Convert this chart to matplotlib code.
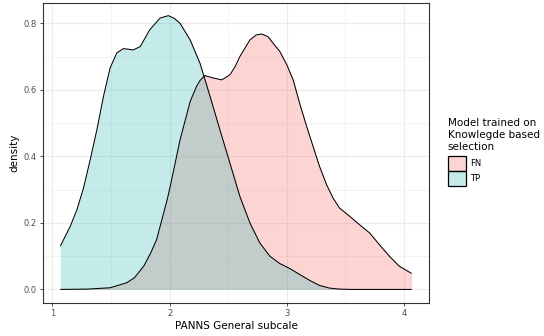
import numpy as np
import matplotlib.pyplot as plt
from matplotlib.patches import Patch
from matplotlib.colors import to_rgba

# density estimates of the PANNS General subscale per prediction group
x_fn = [1.068, 1.30, 1.493, 1.634, 1.70, 1.78, 1.84, 1.89, 1.92, 1.95, 1.98,
        2.006, 2.06, 2.09, 2.15, 2.176, 2.23, 2.26, 2.30, 2.37, 2.445, 2.515,
        2.56, 2.60, 2.686, 2.74, 2.785, 2.84, 2.884, 2.94, 3.0, 3.055, 3.11,
        3.17, 3.225, 3.28, 3.34, 3.395, 3.45, 3.537, 3.62, 3.707, 3.79, 3.876,
        3.96, 4.066]
y_fn = [0.0, 0.001, 0.005, 0.02, 0.035, 0.07, 0.11, 0.15, 0.19, 0.23, 0.27,
        0.31, 0.40, 0.45, 0.53, 0.565, 0.61, 0.628, 0.643, 0.636, 0.63, 0.645,
        0.67, 0.70, 0.75, 0.765, 0.768, 0.76, 0.74, 0.716, 0.676, 0.63, 0.56,
        0.49, 0.43, 0.37, 0.315, 0.275, 0.245, 0.22, 0.195, 0.17, 0.135, 0.10,
        0.07, 0.048]

x_tp = [1.068, 1.153, 1.21, 1.266, 1.323, 1.38, 1.436, 1.493, 1.55, 1.606,
        1.65, 1.69, 1.75, 1.79, 1.83, 1.88, 1.92, 1.99, 2.04, 2.09, 2.176, 2.26,
        2.346, 2.43, 2.515, 2.60, 2.686, 2.77, 2.856, 2.94, 3.026, 3.11, 3.197,
        3.28, 3.366, 3.45, 3.55, 4.066]
y_tp = [0.130, 0.19, 0.24, 0.305, 0.39, 0.48, 0.58, 0.666, 0.711, 0.724,
        0.722, 0.72, 0.73, 0.755, 0.78, 0.80, 0.816, 0.823, 0.815, 0.80, 0.75,
        0.68, 0.58, 0.48, 0.38, 0.28, 0.20, 0.14, 0.10, 0.078, 0.063, 0.045,
        0.027, 0.012, 0.004, 0.001, 0.0, 0.0]

groups = ['FN', 'TP']
colors = ['#F8766D', '#3EBCBC']

fig = plt.figure(figsize=(5.44, 3.36), dpi=100)
ax = fig.add_axes([0.079, 0.098, 0.71, 0.893])

for xs, ys, c in [(x_fn, y_fn, colors[0]), (x_tp, y_tp, colors[1])]:
    ax.fill_between(xs, 0, ys, color=c, alpha=0.3, lw=0, zorder=2)
    ax.plot(xs, ys, color='black', lw=0.75, zorder=3,
            solid_joinstyle='round', solid_capstyle='butt')

ax.set_xlim(0.92, 4.216)
ax.set_ylim(-0.041, 0.861)
ax.set_xticks([1, 2, 3, 4])
ax.set_yticks([0.0, 0.2, 0.4, 0.6, 0.8])
ax.set_yticklabels(['0.0', '0.2', '0.4', '0.6', '0.8'])
ax.set_xticks([1.5, 2.5, 3.5], minor=True)
ax.set_yticks([0.1, 0.3, 0.5, 0.7], minor=True)
ax.grid(which='major', color='#EBEBEB', lw=0.8, zorder=0)
ax.grid(which='minor', color='#EBEBEB', lw=0.4, zorder=0)
ax.set_axisbelow(True)
ax.tick_params(which='major', length=2.5, width=0.6, color='#333333',
               labelsize=6, labelcolor='#4D4D4D', pad=2)
ax.tick_params(which='minor', length=0)
for s in ax.spines.values():
    s.set_color('#333333')
    s.set_linewidth(0.8)

ax.set_xlabel('PANNS General subcale', fontsize=7.5, labelpad=2)
ax.set_ylabel('density', fontsize=7.5, labelpad=3)

handles = [Patch(facecolor=to_rgba(c, 0.3), edgecolor='black', lw=0.9) for c in colors]
leg = fig.legend(handles, groups, title='Model trained on\nKnowlegde based\nselection',
                 loc='upper left', bbox_to_anchor=(0.815, 0.66), frameon=False,
                 fontsize=6, title_fontsize=7.5, handlelength=2.2, handleheight=2.4,
                 handletextpad=0.5, labelspacing=0.0, borderpad=0)
leg._legend_box.align = 'left'
leg._legend_box.sep = 3

fig.savefig('out.png', dpi=100)
